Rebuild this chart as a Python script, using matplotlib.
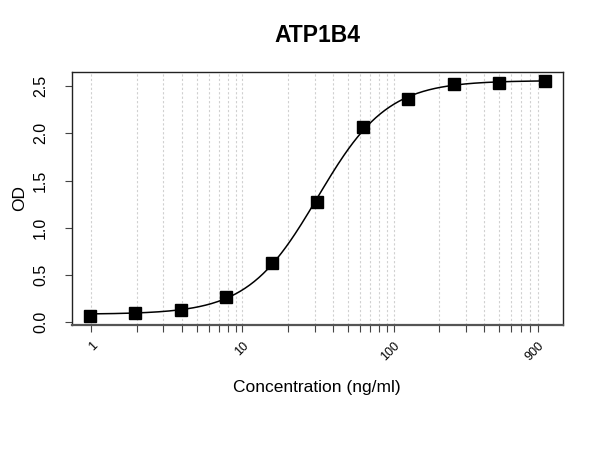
import numpy as np
import matplotlib
matplotlib.use("Agg")
import matplotlib.pyplot as plt

plt.rcParams["font.family"] = ["Liberation Sans", "DejaVu Sans"]

# standard curve
conc = [0.977, 1.95, 3.9, 7.8, 15.6, 31.25, 62.5, 125, 250, 500, 1000]
od = [0.071, 0.095, 0.134, 0.272, 0.625, 1.274, 2.073, 2.362, 2.525, 2.535, 2.556]

grid_ticks = [1, 2, 3, 4, 5, 6, 7, 8, 9,
              10, 20, 30, 40, 50, 60, 70, 80, 90,
              100, 200, 300, 400, 500, 600, 700, 800, 900]
labeled_ticks = [1, 10, 100, 900]
y_ticks = [0.0, 0.5, 1.0, 1.5, 2.0, 2.5]


def four_pl(x, p):
    a, b, lc, d = p
    return d + (a - d) / (1.0 + (x / np.exp(lc)) ** b)


def fit_four_pl(x, y, p0, n_iter=200):
    # small Levenberg-Marquardt fit, no scipy needed
    p = np.array(p0, dtype=float)
    lam = 1e-2
    for _ in range(n_iter):
        r = y - four_pl(x, p)
        J = np.empty((len(x), len(p)))
        for i in range(len(p)):
            dp = np.zeros_like(p)
            dp[i] = 1e-6 * max(1.0, abs(p[i]))
            J[:, i] = (four_pl(x, p + dp) - four_pl(x, p - dp)) / (2 * dp[i])
        A = J.T @ J
        g = J.T @ r
        step = np.linalg.solve(A + lam * np.diag(np.diag(A)), g)
        new_p = p + step
        if np.sum((y - four_pl(x, new_p)) ** 2) < np.sum(r ** 2):
            p = new_p
            lam *= 0.5
        else:
            lam *= 4
    return p


x = np.array(conc)
y = np.array(od)
params = fit_four_pl(x, y, [0.07, 1.8, np.log(35.0), 2.56])

fig = plt.figure(figsize=(6, 4.5), dpi=100)
ax = fig.add_axes([0.1195, 0.278, 0.8185, 0.563])

for g in grid_ticks:
    ax.axvline(g, color="#d0d0d0", lw=0.8, ls=(0, (2, 2)), zorder=0)

xs = np.logspace(np.log10(x.min()), np.log10(x.max()), 300)
ax.plot(xs, four_pl(xs, params), color="black", lw=1.1, zorder=2)
ax.plot(x, y, "s", color="black", ms=8, zorder=3)

ax.set_xscale("log")
lo, hi = np.log10(x.min()), np.log10(x.max())
pad = 0.04 * (hi - lo)
ax.set_xlim(10 ** (lo - pad), 10 ** (hi + pad))
ypad = 0.04 * (y.max() - y.min())
ax.set_ylim(y.min() - ypad, y.max() + ypad)

ax.xaxis.set_minor_locator(matplotlib.ticker.NullLocator())
ax.set_xticks(grid_ticks)
ax.set_xticklabels([str(t) if t in labeled_ticks else "" for t in grid_ticks],
                   rotation=45, fontsize=9, ha="right", rotation_mode="anchor")
ax.set_yticks(y_ticks)
ax.set_yticklabels([f"{v:.1f}" for v in y_ticks], rotation=90, va="center", fontsize=11.5)
ax.tick_params(direction="out", length=5, width=0.8, color="#444444")
ax.tick_params(axis="x", pad=6)
ax.tick_params(axis="y", pad=12)

for s in ax.spines.values():
    s.set_linewidth(1.0)
    s.set_color("#222222")
ax.spines["bottom"].set_linewidth(1.6)
ax.spines["bottom"].set_color("#555555")

ax.set_title("ATP1B4", fontsize=16.5, fontweight="bold", pad=21)
ax.set_xlabel("Concentration (ng/ml)", fontsize=12.5, labelpad=12)
ax.set_ylabel("OD", fontsize=12.5, labelpad=4)

fig.savefig("out.png", dpi=100)
